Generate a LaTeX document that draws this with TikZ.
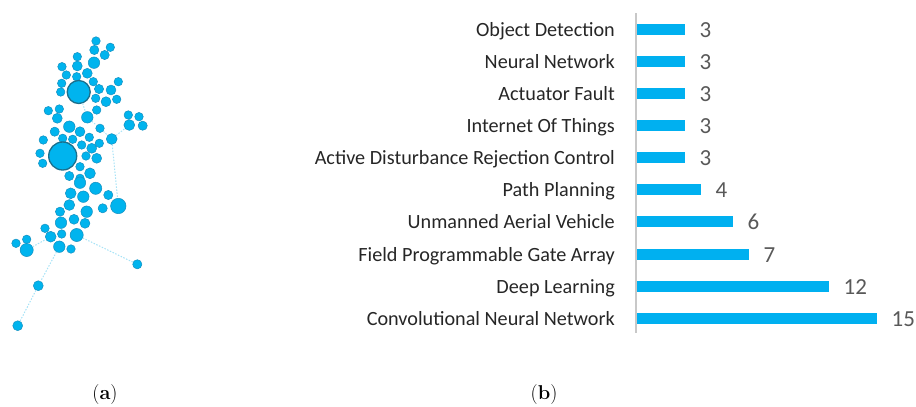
\documentclass[tikz,border=0pt]{standalone}
\usepackage{fontspec}
\newfontfamily\carlito{Carlito}
\definecolor{netblue}{HTML}{00B4EE}
\definecolor{netedge}{HTML}{1590C0}
\definecolor{bigedge}{HTML}{1B6F8C}
\definecolor{netline}{HTML}{A6E2F6}
\definecolor{barblue}{HTML}{00B0F0}
\definecolor{axisgray}{HTML}{C8C8C8}
\definecolor{labtext}{HTML}{262626}
\definecolor{valtext}{HTML}{595959}
\tikzset{
  dot/.style={circle, fill=netblue, draw=netedge, line width=0.5pt, inner sep=0pt},
  bigdot/.style={circle, fill=netblue, draw=bigedge, line width=1.3pt, inner sep=0pt},
  netlink/.style={draw=netline, dash pattern=on 1.5pt off 1.5pt, line width=1pt},
  barbox/.style={rectangle, fill=barblue, inner sep=0pt, minimum height=11pt},
  lab/.style={font=\carlito\fontsize{20.2}{23}\selectfont, text=labtext, inner sep=0pt},
  val/.style={font=\carlito\fontsize{23}{26}\selectfont, text=valtext, inner sep=0pt},
  captext/.style={font=\fontsize{20}{22}\selectfont, inner sep=0pt},
}
\begin{document}
\begin{tikzpicture}[x=1pt,y=-1pt]
\useasboundingbox (0,0) rectangle (916,407);
% ---------- network (a) ----------
\foreach \n/\x/\y/\r in {
 1/96/41/3.7, 2/110.3/47.3/3.7, 3/94.3/50/4, 4/104.7/55/4, 5/77.3/56.7/3.7,
 6/62/66.7/3.7, 7/77.3/66/4.3, 8/94/62.7/5, 9/66.3/75/3.7, 10/76.7/76.7/3.7,
 11/87.3/73.3/4.3, 12/61.7/83.3/3.7, 14/60.7/92/3.7, 15/93.3/81.7/3.7,
 16/99/89/4, 17/111/90/4.3, 18/118.3/81.7/3.7, 19/95.7/98.3/3.7, 20/106/101.7/4.3,
 21/116.7/99.3/3.7, 22/96.7/110/3.7, 23/87.3/117.3/5, 24/48.3/110.7/3.7,
 25/59.3/109/3.7, 26/57.3/118.3/4.3, 27/69.3/126.7/5, 28/54.7/131.7/4,
 29/80/131.7/4.3, 30/43.3/140/3.7, 31/62.7/138.3/3.7, 32/72.7/139.3/3.7,
 33/89.3/137.3/3.7, 34/100/128.3/3.7, 36/40/153.3/3.7, 37/42.7/163.3/3.7,
 38/81.7/145/3.7, 39/91.7/148.3/4.3, 40/99.3/143.3/3.7, 41/86/156/3.7,
 42/96.7/158.3/4.3, 43/80/166.7/3.7, 44/90/173.3/4.7, 45/69.3/176/4,
 46/80/178.3/3.7, 47/111.7/139/4.7,
 481/128.3/115/3.7, 482/139/116.7/3.7, 483/129.3/125/4.7, 484/142.7/125.7/4,
 50/80/182.7/5, 51/95.7/188.3/5.3, 52/70.7/193.3/4.7, 53/83.3/196.7/5,
 54/108.3/195/4, 55/118.3/206/6.7, 56/102.7/208.3/4, 57/69.3/205/4.7,
 58/86.7/211.7/5, 59/60/211.7/4, 60/74/219.3/4.3, 61/61/222.7/5,
 62/85/223.3/4.3, 63/45/228.3/3.7, 64/50.7/236.7/4.7, 65/61.7/234/3.7,
 66/76.7/235/5.7, 67/59.3/246.7/5, 68/71/249/3.7, 69/26.7/239.3/3.7,
 70/16/243.3/3.7, 71/26.7/250/5.7, 72/137.3/264.3/4, 73/38.3/285.7/4.3,
 74/17.7/325.7/4.3}
 \node[dot, minimum size={2.3*\r pt}] (n\n) at (\x,\y) {};
\node[bigdot, minimum size=23pt] (n13) at (78.7,92) {};
\node[bigdot, minimum size=28pt] (n35) at (62.7,156) {};
\draw[netlink] (n66) -- (n72);
\draw[netlink] (n67) -- (n73);
\draw[netlink] (n73) -- (n74);
\draw[netlink] (n47) -- (n55);
\draw[netlink] (n47) -- (n483);
\draw[netlink] (n71) -- (n64);
\draw[netlink] (n13) -- (n23);
\draw[netlink] (n23) -- (n34);
\draw[netlink] (n34) -- (n47);
% ---------- bar chart (b) ----------
\coordinate (axtop) at (636,13);
\coordinate (axbot) at (636,333);
\draw[axisgray, line width=1.4pt] (axtop) -- (axbot);
\foreach \i/\lab/\v in {
 0/Object Detection/3, 1/Neural Network/3, 2/Actuator Fault/3,
 3/Internet Of Things/3, 4/Active Disturbance Rejection Control/3,
 5/Path Planning/4, 6/Unmanned Aerial Vehicle/6,
 7/Field Programmable Gate Array/7, 8/Deep Learning/12,
 9/Convolutional Neural Network/15}
{
 \pgfmathsetmacro{\yc}{29.3+32.1*\i}
 \node[lab, anchor=base east] (l\i) at (615,\yc+7) {\lab};
 \node[barbox, minimum width={16*\v pt}, anchor=west] (b\i) at (637,\yc) {};
 \node[val, anchor=base west] (v\i) at ([xshift=14pt]b\i.east |- 0,\yc+8) {\v};
}
% ---------- captions ----------
\node[captext, anchor=base] (capa) at (105,399) {(\textbf{a})};
\node[captext, anchor=base] (capb) at (544,399) {(\textbf{b})};
\end{tikzpicture}
\end{document}
